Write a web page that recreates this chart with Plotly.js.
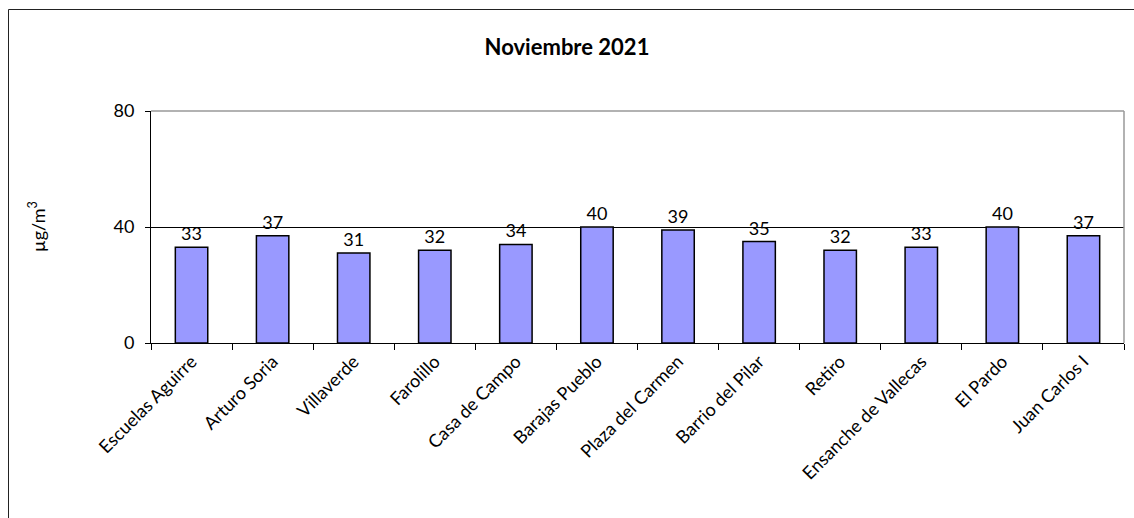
<!DOCTYPE html>
<html>
<head>
<meta charset="utf-8">
<script src="https://cdn.plot.ly/plotly-3.0.1.min.js"></script>
<style>
  html, body { margin: 0; padding: 0; background: #fff; }
  #chart { width: 1134px; height: 518px; }
</style>
</head>
<body>
<div id="chart"></div>
<script>
const categories = ["Escuelas Aguirre", "Arturo Soria", "Villaverde", "Farolillo", "Casa de Campo", "Barajas Pueblo", "Plaza del Carmen", "Barrio del Pilar", "Retiro", "Ensanche de Vallecas", "El Pardo", "Juan Carlos I"];
const values = [33, 37, 31, 32, 34, 40, 39, 35, 32, 33, 40, 37];
const yTicks = [0, 40, 80];
const titleText = "Noviembre 2021";
const yTitle = "µg/m<sup>3</sup>";

const FONT = "Lato, 'Open Sans', sans-serif";

const trace = {
  type: "bar",
  x: categories,
  y: values,
  marker: { color: "#9999FF", line: { color: "#000000", width: 1.5 } },
  text: values.map(String),
  textposition: "outside",
  cliponaxis: false,
  textfont: { family: FONT, size: 18, color: "#000" },
  hoverinfo: "skip"
};

const W = 1134, H = 518;
const L = 151, R = 10, T = 111, B = 175;

const layout = {
  width: W, height: H,
  margin: { l: L, r: R, t: T, b: B, pad: 0 },
  paper_bgcolor: "#fff",
  plot_bgcolor: "#fff",
  showlegend: false,
  bargap: 0.6,
  font: { family: FONT, color: "#000" },
  title: {
    text: "<b>" + titleText + "</b>",
    font: { family: FONT, size: 22, color: "#000" },
    x: 0.5, xref: "container", xanchor: "center",
    y: 1 - 47 / H, yref: "container", yanchor: "middle"
  },
  xaxis: {
    type: "category",
    tickangle: -45,
    tickfont: { family: FONT, size: 18, color: "#000" },
    showline: true, linecolor: "#000", linewidth: 1,
    ticks: "outside", ticklen: 6, tickcolor: "#000", tickwidth: 1,
    tickson: "boundaries",
    showgrid: false, zeroline: false,
    fixedrange: true
  },
  yaxis: {
    range: [0, 80],
    tickvals: yTicks,
    ticktext: yTicks.map(String),
    tickfont: { family: FONT, size: 18, color: "#000" },
    showline: true, linecolor: "#000", linewidth: 1,
    ticks: "outside", ticklen: 5, tickcolor: "#000", tickwidth: 1,
    ticklabelstandoff: 7,
    showgrid: true, gridcolor: "#000", gridwidth: 1,
    zeroline: false,
    fixedrange: true
  },
  annotations: [{
    text: yTitle,
    xref: "paper", yref: "paper",
    x: (37 - L) / (W - L - R), y: 0.5,
    xanchor: "center", yanchor: "middle",
    textangle: -90,
    showarrow: false,
    font: { family: FONT, size: 18, color: "#000" }
  }],
  shapes: [
    { type: "line", xref: "paper", yref: "paper", x0: 0, x1: 1, y0: 1, y1: 1,
      line: { color: "#999", width: 1.5 }, layer: "above" },
    { type: "line", xref: "paper", yref: "paper", x0: 1, x1: 1, y0: 0, y1: 1,
      line: { color: "#999", width: 1.5 }, layer: "above" },
    { type: "rect", xref: "paper", yref: "paper",
      x0: (8.5 - L) / (W - L - R), x1: (W + 5 - L) / (W - L - R),
      y0: -(H + 5 - T - (H - T - B)) / (H - T - B) , y1: 1 + (T - 9.5) / (H - T - B),
      line: { color: "#222", width: 1 }, fillcolor: "rgba(0,0,0,0)", layer: "below" }
  ]
};

Plotly.newPlot("chart", [trace], layout, { displayModeBar: false, staticPlot: true });
</script>
</body>
</html>
